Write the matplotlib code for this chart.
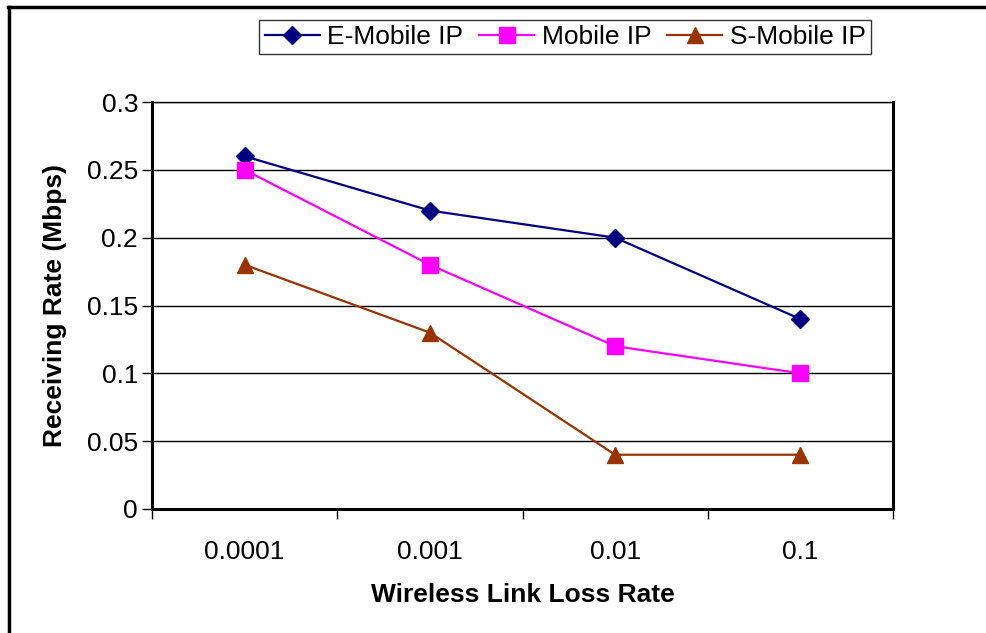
import matplotlib.pyplot as plt
from matplotlib.lines import Line2D

plt.rcParams['font.family'] = ['Liberation Sans', 'DejaVu Sans']

loss_rates = ['0.0001', '0.001', '0.01', '0.1']
e_mobile = [0.26, 0.22, 0.20, 0.14]
mobile = [0.25, 0.18, 0.12, 0.10]
s_mobile = [0.18, 0.13, 0.04, 0.04]

fig = plt.figure(figsize=(9.86, 6.33), dpi=100)
ax = fig.add_axes([152/986, 1 - 509/633, 741/986, 407/633])

x = range(len(loss_rates))
ax.plot(x, e_mobile, color='#000080', marker='D', markersize=9, lw=1.6, label='E-Mobile IP')
ax.plot(x, mobile, color='#FF00FF', marker='s', markersize=11, lw=1.6, label='Mobile IP')
ax.plot(x, s_mobile, color='#993300', marker='^', markersize=11, lw=1.6, label='S-Mobile IP')

ax.set_xlim(-0.5, 3.5)
ax.set_ylim(0, 0.3)
ax.set_yticks([0, 0.05, 0.1, 0.15, 0.2, 0.25, 0.3])
ax.set_yticklabels(['0', '0.05', '0.1', '0.15', '0.2', '0.25', '0.3'])
ax.yaxis.grid(True, color='black', lw=1)
ax.set_axisbelow(True)

ax.set_xticks([-0.5, 0.5, 1.5, 2.5, 3.5])
ax.set_xticklabels([])
ax.set_xticks(list(x), minor=True)
ax.set_xticklabels(loss_rates, minor=True)
ax.tick_params(axis='x', which='major', direction='out', length=7, width=1)
ax.tick_params(axis='x', which='minor', length=0, pad=22, labelsize=19)
ax.tick_params(axis='y', direction='out', length=7, width=1, labelsize=19, pad=3)

for s in ['left', 'bottom', 'right']:
    ax.spines[s].set_linewidth(2.2)
ax.spines['top'].set_linewidth(1)

ax.set_xlabel('Wireless Link Loss Rate', fontsize=19, fontweight='bold', labelpad=14)
ax.set_ylabel('Receiving Rate (Mbps)', fontsize=19, fontweight='bold', labelpad=14)

leg = fig.legend(loc='center', bbox_to_anchor=(565/986, 1 - 37/633), ncol=3,
                 fontsize=19, frameon=True, fancybox=False, edgecolor='black',
                 handlelength=2.1, handletextpad=0.27, columnspacing=0.6,
                 borderpad=0.2, borderaxespad=0)
leg.get_frame().set_linewidth(1)

# outer border (top and left edges)
fig.add_artist(Line2D([8/986, 1], [1 - 7/633, 1 - 7/633], color='black', lw=2.5,
                      transform=fig.transFigure))
fig.add_artist(Line2D([9/986, 9/986], [0, 1 - 7/633], color='black', lw=2.5,
                      transform=fig.transFigure))

fig.savefig('out.png', dpi=100)
